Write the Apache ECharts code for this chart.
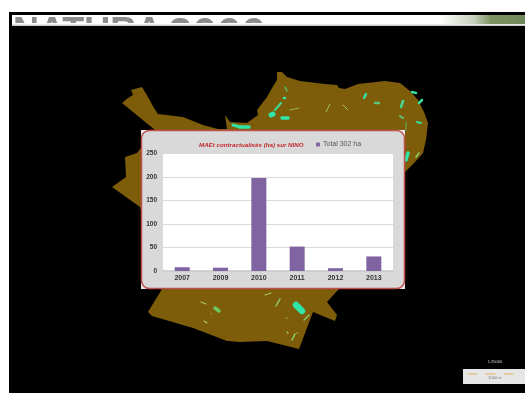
<!DOCTYPE html>
<html>
<head>
<meta charset="utf-8">
<style>
  html, body { margin: 0; padding: 0; background: #fff; }
  #chart { width: 525px; height: 401px; filter: blur(0.45px); }
</style>
<script src="https://cdn.jsdelivr.net/npm/echarts@6/dist/echarts.min.js"></script>
</head>
<body>
<div id="chart"></div>
<script>
// chart data
const years = ["2007", "2009", "2010", "2011", "2012", "2013"]
const hectares = [8, 7, 198, 52, 6, 31]
const yTicks = [0, 50, 100, 150, 200, 250]
const seriesName = "Total 302 ha"
const chartTitle = "MAEt contractualisés (ha) sur NINO"

// backdrop: the map behind the chart
const siteOutline = [
  [122,103],[128,98],[133,95],[131,90],[142,87],[148,97],[154,108],[158,114],[183,117],[203,125],[218,129],[227,129],
  [225,115],[230,122],[247,123],[258,115],[257,110],[267,97],[272,88],[277,80],[277,72],[282,72],[287,77],
  [300,81],[325,84],[337,85],[339,88],[345,89],[358,84],[385,81],[400,83],[410,91],[418,100],
  [424,112],[428,123],[426,140],[423,153],[415,162],[405,172],[390,230],[338,290],[327,302],[337,315],
  [335,321],[313,312],[299,349],[267,341],[240,342],[227,341],[193,328],[152,316],[148,312],[162,289],[140,207],
  [112,187],[126,177],[125,157],[137,153],[155,130]
]
const patches = [
  [285,87,287,91,1.2,"#4fd08a"],[284,98,285,98,2.5,"#35e0a0"],[271,115,273,114,5,"#2fe6a8"],[275,110,281,103,2,"#3fd894"],
  [282,118,288,118,3.5,"#2fe6a8"],[290,110,299,108,0.8,"#a8c860"],[326,112,330,104,1,"#a8c860"],[343,105,348,110,1,"#a8c860"],
  [364,98,366,94,2.5,"#35e0a0"],[375,103,379,103,2.5,"#5cc878"],[401,107,403,101,2.5,"#45d890"],[412,92,416,93,2.5,"#35e0a0"],
  [419,103,422,100,2.5,"#35e0a0"],[400,116,403,118,2,"#5cc878"],[417,122,421,123,2,"#35e0a0"],[406,122,406,130,0.8,"#5cc878"],
  [408,153,406,160,3.5,"#2fe6a8"],[416,157,419,153,1.5,"#8fd070"],[233,125,240,127,3,"#35e0a0"],[240,127,249,127,3.5,"#2fe6a8"],
  [201,302,206,304,1.2,"#a8c860"],[215,308,219,311,3.5,"#6cc860"],[204,321,207,323,1.2,"#a8c860"],[211,313,212,314,0.8,"#a8c860"],
  [265,295,271,293,1.2,"#a8c860"],[276,306,280,299,1.5,"#8fd070"],[296,305,302,311,6.5,"#2fe6a8"],[304,320,309,315,1.2,"#8fd070"],
  [292,340,295,334,1.5,"#8fd070"],[287,332,288,333,1.2,"#a8c860"],[297,333,298,333,1.2,"#a8c860"],[286,318,287,318,1.2,"#a8c860"]
]

const line = (x1, y1, x2, y2, w, color) => ({
  type: "line",
  shape: { x1, y1, x2, y2 },
  style: { stroke: color, lineWidth: w, lineCap: "round" },
  silent: true
})
const rect = (x, y, width, height, fill) => ({
  type: "rect",
  shape: { x, y, width, height },
  style: { fill },
  silent: true
})
const bannerText = (x, text, size) => ({
  type: "text",
  style: { x, y: 15, text, fill: "#8c8c8c", font: `bold ${size}px 'Liberation Sans'`, textVerticalAlign: "top" },
  silent: true
})

const backdrop = [
  rect(9, 12, 516, 381, "#000"),
  rect(12, 15, 513, 11, "#fff"),
  {
    type: "rect",
    shape: { x: 440, y: 15, width: 85, height: 9 },
    style: {
      fill: { type: "linear", x: 0, y: 0, x2: 1, y2: 0, colorStops: [
        { offset: 0, color: "#ffffff" },
        { offset: 0.4, color: "#c8d0bc" },
        { offset: 0.6, color: "#7d9262" },
        { offset: 1, color: "#71885a" }
      ] }
    },
    silent: true
  },
  bannerText(13, "NATURA", 36),
  bannerText(168, "2000", 44),
  rect(12, 23, 430, 2, "#fff"),
  rect(12, 24.5, 513, 1.5, "#ccc"),
  rect(12, 26, 513, 367, "#000"),
  rect(9, 12, 3, 381, "#000"),
  rect(9, 12, 516, 3, "#000"),
  { type: "polygon", shape: { points: siteOutline }, style: { fill: "#7d5c0a" }, silent: true },
  ...patches.map((p) => line(...p)),
  rect(463, 369, 62, 15, "#e6e6e6"),
  line(468, 374, 477, 374, 1, "#e0b060"),
  line(486, 374, 495, 374, 1, "#e0b060"),
  line(504, 374, 513, 374, 1, "#e0b060"),
  {
    type: "text",
    style: { x: 495, y: 378, text: "1000 m", fill: "#777", font: "4px 'Liberation Sans'", textAlign: "center", textVerticalAlign: "middle" },
    silent: true
  },
  {
    type: "text",
    style: { x: 495, y: 362, text: "1:25000", fill: "#ddd", font: "4px 'Liberation Sans'", textAlign: "center", textVerticalAlign: "middle" },
    silent: true
  },
  rect(141, 130, 264, 159, "#e8e8e8"),
  {
    type: "rect",
    shape: { x: 141.5, y: 130.5, width: 263, height: 158, r: 8 },
    style: { fill: "#d9d9d9", stroke: "#c0504d", lineWidth: 1.5 },
    silent: true
  }
].map((el) => ({ ...el, z: -1 }))

const chart = echarts.init(document.getElementById("chart"), null, { renderer: "canvas" })

chart.setOption({
  animation: false,
  backgroundColor: "#fff",
  textStyle: { fontFamily: "Liberation Sans" },
  graphic: { elements: backdrop },
  title: {
    text: chartTitle,
    left: 194,
    top: 137,
    textStyle: { color: "#c0282d", fontSize: 6.2, fontStyle: "italic", fontWeight: "bold" }
  },
  legend: {
    data: [seriesName],
    left: 311,
    top: 136,
    itemWidth: 4,
    itemHeight: 4,
    itemGap: 3,
    textStyle: { color: "#595959", fontSize: 7, padding: [0, 0, 0, -2] }
  },
  grid: { left: 163, right: 132, top: 153.5, bottom: 130, backgroundColor: "#fff", show: true, borderWidth: 0 },
  xAxis: {
    type: "category",
    data: years,
    axisTick: { show: false },
    axisLine: { lineStyle: { color: "#c8c8c8", width: 1.5 } },
    axisLabel: { color: "#333", fontSize: 7, fontWeight: "bold", margin: 4 }
  },
  yAxis: {
    type: "value",
    min: yTicks[0],
    max: yTicks[yTicks.length - 1],
    interval: yTicks[1] - yTicks[0],
    axisLine: { show: false },
    axisTick: { show: false },
    axisLabel: { color: "#333", fontSize: 6.5, fontWeight: "bold", margin: 6 },
    splitLine: { lineStyle: { color: "#d9d9d9", width: 1.2 } }
  },
  series: [
    {
      name: seriesName,
      type: "bar",
      data: hectares,
      barWidth: 15,
      itemStyle: { color: "#8064a2" }
    }
  ]
})
</script>
</body>
</html>
